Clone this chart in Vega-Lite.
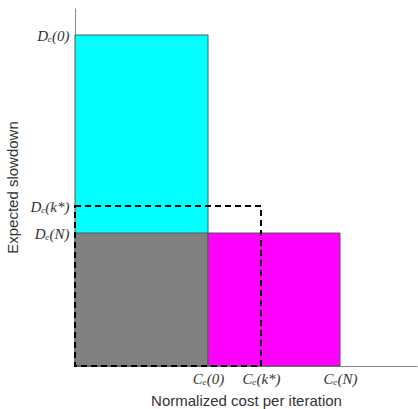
{
  "$schema": "https://vega.github.io/schema/vega-lite/v6.json",
  "width": 342,
  "height": 358,
  "autosize": "none",
  "padding": {"left": 75, "top": 8, "right": 1, "bottom": 43},
  "background": "white",
  "config": {"view": {"stroke": null}},
  "data": {
    "values": [
      {"part": "cyan", "x": 0, "x2": 133, "y": 0, "y2": 331},
      {"part": "gray", "x": 0, "x2": 133, "y": 0, "y2": 133},
      {"part": "magenta", "x": 133, "x2": 265, "y": 0, "y2": 133},
      {"part": "dashed", "x": 0, "x2": 186, "y": 0, "y2": 160}
    ]
  },
  "layer": [
    {
      "transform": [{"filter": "datum.part != 'dashed'"}],
      "mark": {"type": "rect", "stroke": "#555555", "strokeWidth": 1},
      "encoding": {
        "x": {"field": "x", "type": "quantitative", "scale": {"domain": [0, 342], "nice": false},
          "axis": {"values": [133, 186, 265], "ticks": false, "grid": false, "domainColor": "#888888",
            "labelExpr": "datum.value == 133 ? 'Cₑ(0)' : datum.value == 186 ? 'Cₑ(k*)' : 'Cₑ(N)'",
            "labelFont": "Liberation Serif", "labelFontStyle": "italic", "labelFontSize": 15, "labelColor": "#333333", "labelPadding": 5,
            "title": "Normalized cost per iteration", "titleFont": "Liberation Sans", "titleFontWeight": "normal", "titleFontSize": 15, "titleColor": "#333333",
            "titleY": 34, "titleBaseline": "middle"}},
        "x2": {"field": "x2"},
        "y": {"field": "y", "type": "quantitative", "scale": {"domain": [0, 358], "nice": false},
          "axis": {"values": [331, 160, 133], "ticks": false, "grid": false, "domainColor": "#888888",
            "labelExpr": "datum.value == 331 ? 'Dₑ(0)' : datum.value == 160 ? 'Dₑ(k*)' : 'Dₑ(N)'",
            "labelFont": "Liberation Serif", "labelFontStyle": "italic", "labelFontSize": 15, "labelColor": "#333333", "labelPadding": 6,
            "title": "Expected slowdown", "titleFont": "Liberation Sans", "titleFontWeight": "normal", "titleFontSize": 15, "titleColor": "#333333",
            "titleX": -63, "titleBaseline": "middle"}},
        "y2": {"field": "y2"},
        "color": {"field": "part", "type": "nominal", "legend": null,
          "scale": {"domain": ["cyan", "gray", "magenta"], "range": ["#00FFFF", "#808080", "#FF00FF"]}}
      }
    },
    {
      "transform": [{"filter": "datum.part == 'dashed'"}],
      "mark": {"type": "rect", "fill": null, "fillOpacity": 0, "stroke": "black", "strokeWidth": 2, "strokeDash": [6, 4]},
      "encoding": {
        "x": {"field": "x", "type": "quantitative"},
        "x2": {"field": "x2"},
        "y": {"field": "y", "type": "quantitative"},
        "y2": {"field": "y2"}
      }
    }
  ]
}
